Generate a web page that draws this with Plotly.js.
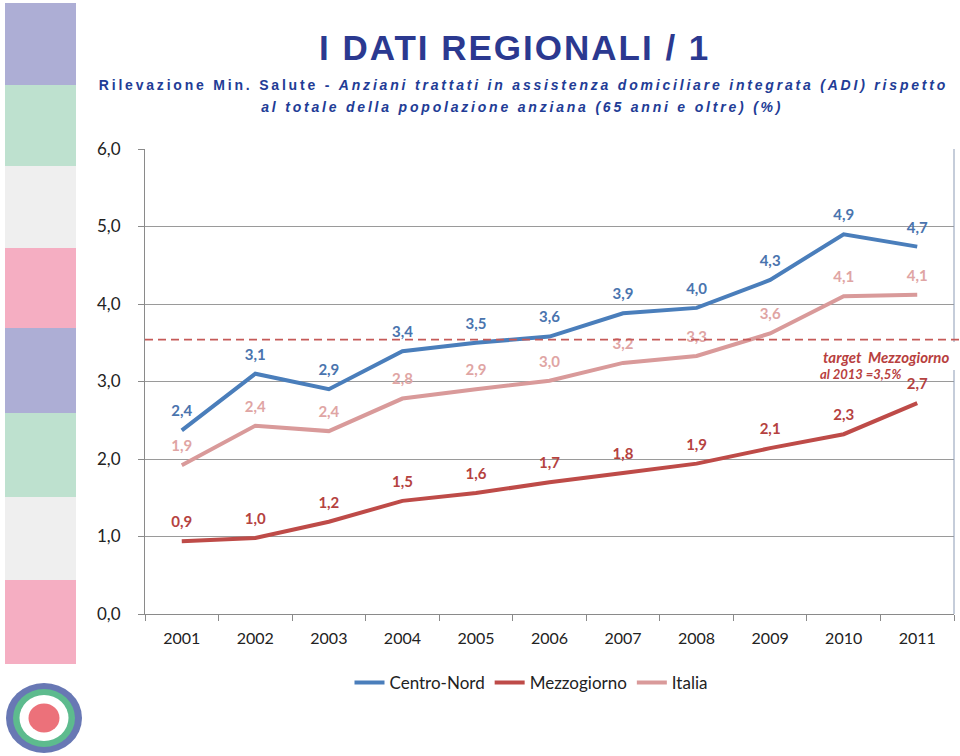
<!DOCTYPE html>
<html>
<head>
<meta charset="utf-8">
<script src="https://cdn.plot.ly/plotly-3.0.1.min.js"></script>
<style>
  html, body { margin: 0; padding: 0; background: #fff; }
  #chart { width: 960px; height: 756px; }
  g.annotation[data-index="0"] text { letter-spacing: 2px; }
  g.annotation[data-index="1"] text, g.annotation[data-index="2"] text { letter-spacing: 2.8px; }
</style>
</head>
<body>
<div id="chart"></div>
<script>
// ---- data ----
const years = ['2001','2002','2003','2004','2005','2006','2007','2008','2009','2010','2011'];
const centroNord = [2.37, 3.10, 2.90, 3.39, 3.50, 3.58, 3.88, 3.95, 4.31, 4.90, 4.74];
const mezzogiorno = [0.94, 0.98, 1.19, 1.46, 1.56, 1.70, 1.82, 1.94, 2.14, 2.32, 2.72];
const italia = [1.92, 2.43, 2.36, 2.78, 2.90, 3.01, 3.24, 3.33, 3.62, 4.10, 4.12];
const centroNordLabels = ['2,4','3,1','2,9','3,4','3,5','3,6','3,9','4,0','4,3','4,9','4,7'];
const mezzogiornoLabels = ['0,9','1,0','1,2','1,5','1,6','1,7','1,8','1,9','2,1','2,3','2,7'];
const italiaLabels = ['1,9','2,4','2,4','2,8','2,9','3,0','3,2','3,3','3,6','4,1','4,1'];
const seriesNames = ['Centro-Nord','Mezzogiorno','Italia'];
const targetValue = 3.54;
const yTicks = [0,1,2,3,4,5,6];

// ---- layout geometry ----
const W = 960, H = 756;
const M = {l: 145, r: 6, t: 149, b: 142};
const PW = W - M.l - M.r, PH = H - M.t - M.b;
const px = x => (x - M.l) / PW;
const py = y => (H - M.b - y) / PH;

const FONT = 'Lato, "Open Sans", sans-serif';

function lineTrace(name, y, color) {
  return {
    type: 'scatter', mode: 'lines', name: name, x: years, y: y,
    line: {color: color, width: 4}, hoverinfo: 'skip'
  };
}
function labelTrace(name, y, labels, color) {
  return {
    type: 'scatter', mode: 'markers+text', name: name + ' (etichette)', showlegend: false,
    x: years, y: y, text: labels, textposition: 'top center',
    textfont: {family: FONT, size: 15, color: color, weight: 'bold'},
    marker: {size: 15, opacity: 0}, hoverinfo: 'skip', cliponaxis: false
  };
}

const traces = [
  lineTrace(seriesNames[0], centroNord, '#4A7EBB'),
  lineTrace(seriesNames[1], mezzogiorno, '#BE4B48'),
  lineTrace(seriesNames[2], italia, '#D99A9A'),
  labelTrace(seriesNames[0], centroNord, centroNordLabels, '#4A74AE'),
  labelTrace(seriesNames[1], mezzogiorno, mezzogiornoLabels, '#B5423F'),
  labelTrace(seriesNames[2], italia, italiaLabels, '#DFA5A4')
];

// side strip blocks
const strip = [
  [3, 85, '#ADAED5'], [85, 166, '#BEE1CF'], [166, 248, '#EFEFEF'], [248, 328, '#F5AEC2'],
  [328, 413, '#ADAED5'], [413, 497, '#BEE1CF'], [497, 580, '#EFEFEF'], [580, 664, '#F5AEC2']
];
const shapes = strip.map(s => ({
  type: 'rect', xref: 'paper', yref: 'paper', layer: 'below',
  x0: px(5), x1: px(76), y0: py(s[1]), y1: py(s[0]),
  fillcolor: s[2], line: {width: 0}
}));
// logo rings
const logo = [[38, 35, '#6878B4'], [31, 29, '#5DBB8E'], [24.5, 23, '#FFFFFF'], [15.5, 14.5, '#EC717A']];
logo.forEach(r => shapes.push({
  type: 'circle', xref: 'paper', yref: 'paper',
  x0: px(44 - r[0]), x1: px(44 + r[0]), y0: py(718 + r[1]), y1: py(718 - r[1]),
  fillcolor: r[2], line: {width: 0}
}));
// right border of plot (interrupted by the note)
shapes.push({type: 'line', xref: 'paper', yref: 'paper', x0: 1, x1: 1, y0: py(342), y1: 1, line: {color: '#8C9BB5', width: 1}});
shapes.push({type: 'line', xref: 'paper', yref: 'paper', x0: 1, x1: 1, y0: 0, y1: py(370), line: {color: '#8C9BB5', width: 1}});
// target line
shapes.push({type: 'line', xref: 'paper', yref: 'y', x0: 0, x1: px(960), y0: targetValue, y1: targetValue,
  line: {color: '#C55A58', width: 1.6, dash: '8px,5px'}});

const blue = '#223C96';
const annotations = [
  {text: '<b>I DATI REGIONALI / 1</b>', xref: 'paper', yref: 'paper', x: px(514), y: py(48),
   xanchor: 'center', yanchor: 'middle', showarrow: false,
   font: {family: '"Liberation Sans", Arial, sans-serif', size: 35, color: '#2B3990'}},
  {text: '<b>Rilevazione Min. Salute - <i>Anziani trattati in assistenza domiciliare integrata (ADI) rispetto</i></b>',
   xref: 'paper', yref: 'paper', x: px(523), y: py(85), xanchor: 'center', yanchor: 'middle', showarrow: false,
   font: {family: '"Liberation Sans", Arial, sans-serif', size: 14, color: blue}},
  {text: '<b><i>al totale della popolazione anziana (65 anni e oltre) (%)</i></b>',
   xref: 'paper', yref: 'paper', x: px(522), y: py(107), xanchor: 'center', yanchor: 'middle', showarrow: false,
   font: {family: '"Liberation Sans", Arial, sans-serif', size: 14, color: blue}},
  {text: '<b><i>target  Mezzogiorno</i></b>', xref: 'paper', yref: 'paper',
   x: px(821), y: py(357), xanchor: 'left', yanchor: 'middle', align: 'left', showarrow: false,
   font: {family: FONT, size: 15, color: '#B8403E'}},
  {text: '<b><i>al 2013 =3,5%</i></b>', xref: 'paper', yref: 'paper',
   x: px(819), y: py(374), xanchor: 'left', yanchor: 'middle', align: 'left', showarrow: false,
   borderpad: 0, font: {family: FONT, size: 13, color: '#B8403E'}}
];

const layout = {
  width: W, height: H,
  margin: M,
  paper_bgcolor: '#FFFFFF', plot_bgcolor: '#FFFFFF',
  separators: ',.',
  showlegend: true,
  legend: {orientation: 'h', x: px(531), xanchor: 'center', y: py(683), yanchor: 'middle',
    font: {family: FONT, size: 17, color: '#222'}, traceorder: 'normal'},
  xaxis: {
    type: 'category', range: [-0.5, 10.5], tickson: 'boundaries',
    showgrid: false, showline: true, linecolor: '#8A8A8A', linewidth: 1,
    ticks: 'outside', ticklen: 6, tickcolor: '#8A8A8A', ticklabelstandoff: 10,
    tickfont: {family: FONT, size: 16, color: '#222'}, fixedrange: true
  },
  yaxis: {
    range: [0, 6], tickvals: yTicks, tickformat: '.1f',
    showgrid: true, gridcolor: '#9A9A9A', gridwidth: 1, zeroline: false,
    showline: true, linecolor: '#8A8A8A', linewidth: 1,
    ticks: 'outside', ticklen: 6, tickcolor: '#8A8A8A', ticklabelstandoff: 14,
    tickfont: {family: FONT, size: 17, color: '#222'}, fixedrange: true
  },
  shapes: shapes,
  annotations: annotations
};

Plotly.newPlot('chart', traces, layout, {displayModeBar: false, staticPlot: true});
</script>
</body>
</html>
